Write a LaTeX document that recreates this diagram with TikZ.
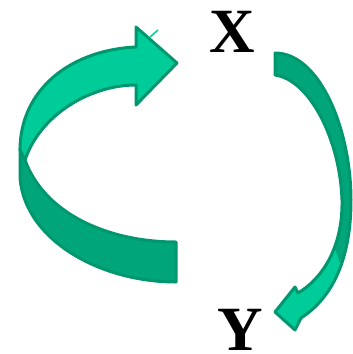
\documentclass[tikz,border=0pt]{standalone}
\usepackage{fontspec}
\setmainfont{Liberation Serif}
\usepackage{tikz}
\usepackage{xcolor}
\usetikzlibrary{positioning}

\definecolor{ribbonlight}{RGB}{0,204,153}
\definecolor{ribbondark}{RGB}{0,166,122}
\definecolor{ribbonedge}{RGB}{0,150,110}

\begin{document}
\begin{tikzpicture}[
    x=1pt, y=-1pt,
    var/.style={inner sep=0pt, font=\fontsize{63}{63}\selectfont\bfseries},
    front/.style={fill=ribbonlight, draw=ribbonedge, line width=3pt, line join=round},
    back/.style={fill=ribbondark, draw=ribbonedge, line width=3pt, line join=round},
    edge/.style={draw=ribbonedge, line width=3pt, line join=round}
]
\useasboundingbox (0,0) rectangle (353,354);

% Variables
\node[var] (X) at (232.5,31.5) {X};
\node[var] (Y) at (240,330) {Y};

% Loop arrow on the left: back face
\draw[back] (20,148) -- (20,178) .. controls (25,240) and (100,282) .. (176,282) -- (176,242) .. controls (110,242) and (45,215) .. (25,160) -- cycle;
% front face with head
\draw[front] (20,150) .. controls (20,90) and (70,50) .. (136,47) -- (136,27) -- (177,63) -- (136,105) -- (136,85) .. controls (90,85) and (40,115) .. (25,160) -- cycle;
\draw[ribbonlight, line width=1.5pt] (150,37) -- (158,30);

% Arrow from X down to Y
\def\xyarrow{(275,53) -- (275,75) .. controls (310,80) and (340,140) .. (342,200) .. controls (343,250) and (320,280) .. (298,293) -- (295,287) -- (275,312) -- (295,330) -- (301,318) .. controls (332,298) and (351,260) .. (351,200) .. controls (351,130) and (320,53) .. cycle}
\fill[ribbondark] \xyarrow;
\begin{scope}
    \clip \xyarrow;
    \fill[ribbonlight] (330,235) -- (353,300) -- (353,354) -- (260,354) -- (260,235) -- cycle;
\end{scope}
\path[edge] \xyarrow;

\end{tikzpicture}
\end{document}
